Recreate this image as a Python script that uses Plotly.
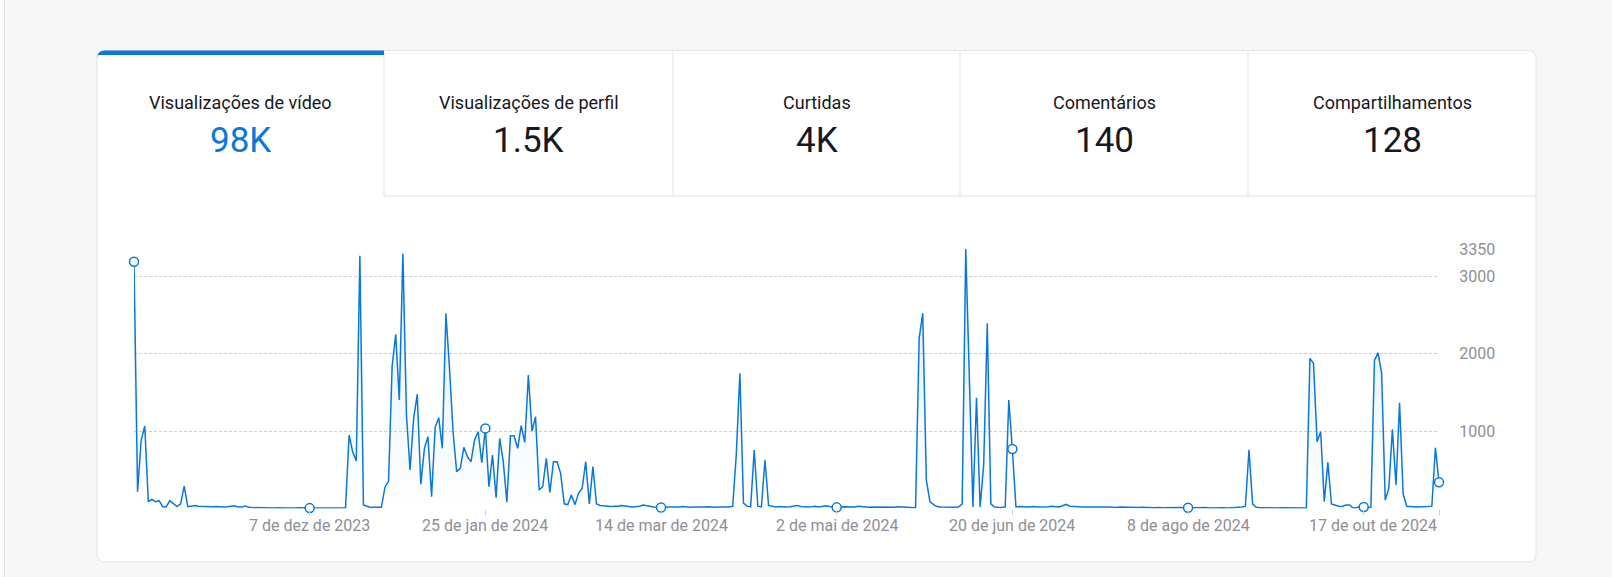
import plotly.graph_objects as go

W, H = 1612, 577

# ---------------- data ----------------
tab_titles = ["Visualizações de vídeo", "Visualizações de perfil", "Curtidas", "Comentários", "Compartilhamentos"]
tab_values = ["98K", "1.5K", "4K", "140", "128"]

tick_positions = [49, 98, 147, 196, 245, 294, 343]
tick_labels = ["7 de dez de 2023", "25 de jan de 2024", "14 de mar de 2024", "2 de mai de 2024",
               "20 de jun de 2024", "8 de ago de 2024", "17 de out de 2024"]
marker_positions = [0, 49, 98, 147, 196, 245, 294, 343, 364]

y_ticks = [0, 1000, 2000, 3000, 3350]
y_tick_labels = ["", "1000", "2000", "3000", "3350"]

video_views = [
    3185, 217, 884, 1065, 88, 118, 88, 101, 24, 24,
    101, 60, 24, 60, 290, 24, 30, 38, 28, 25,
    30, 26, 22, 25, 20, 18, 22, 24, 35, 20,
    18, 32, 16, 12, 10, 8, 10, 12, 8, 6,
    10, 12, 8, 6, 4, 8, 10, 6, 4, 5,
    8, 10, 6, 5, 8, 6, 4, 5, 4, 5,
    948, 730, 613, 3262, 45, 30, 13, 15, 12, 15,
    275, 350, 1840, 2248, 1400, 3293, 1206, 497, 1164, 1473,
    312, 777, 927, 153, 1048, 1172, 777, 2519, 1813, 991,
    475, 518, 790, 669, 604, 884, 991, 591, 1034, 282,
    690, 140, 905, 604, 80, 940, 940, 777, 1069, 853,
    1723, 1000, 1185, 239, 282, 648, 209, 604, 604, 454,
    60, 50, 174, 50, 196, 260, 604, 60, 540, 60,
    40, 35, 30, 25, 30, 28, 40, 30, 25, 20,
    22, 30, 45, 35, 25, 20, 15, 12, 15, 20,
    18, 15, 20, 25, 18, 15, 20, 18, 15, 20,
    22, 18, 15, 20, 18, 15, 20, 30, 700, 1745,
    70, 30, 20, 755, 30, 20, 626, 40, 25, 20,
    25, 20, 18, 22, 30, 40, 25, 20, 18, 22,
    30, 20, 25, 35, 25, 20, 15, 18, 22, 20,
    25, 20, 30, 22, 18, 15, 20, 18, 25, 22,
    20, 18, 15, 22, 20, 18, 20, 15, 10, 2196,
    2519, 368, 88, 50, 25, 20, 18, 15, 12, 15,
    20, 60, 3350, 1714, 20, 1430, 20, 561, 2390, 60,
    20, 15, 12, 20, 1400, 768, 20, 25, 20, 18,
    22, 25, 18, 20, 15, 22, 30, 25, 20, 35,
    55, 30, 25, 20, 22, 18, 20, 15, 18, 20,
    15, 18, 20, 15, 12, 18, 15, 12, 15, 10,
    12, 15, 10, 12, 10, 15, 12, 10, 12, 10,
    8, 10, 12, 8, 10, 12, 10, 8, 10, 12,
    8, 10, 12, 8, 10, 8, 10, 12, 15, 20,
    30, 757, 60, 15, 10, 8, 10, 8, 10, 8,
    10, 8, 6, 8, 10, 8, 6, 5, 1938, 1873,
    862, 991, 88, 596, 58, 40, 30, 25, 45, 45,
    10, 10, 25, 20, 10, 15, 1916, 2010, 1745, 110,
    260, 1022, 303, 1365, 187, 30, 25, 22, 20, 22,
    20, 25, 30, 785, 338,
]
day_index = list(range(len(video_views)))
last_index = day_index[-1]

# ---------------- styling ----------------
BLUE = "#0a78d8"
GRID = "#cfcfcf"
LABEL = "#8e8e93"
BORDER = "#e3e3e3"
FONT = "Roboto, Inter, 'Noto Sans', sans-serif"


def px(x):
    return x / W


def py(y):
    return 1 - y / H


def rounded_rect_path(x0, y0, x1, y1, r, top_only=False):
    X0, X1 = px(x0), px(x1)
    Y0, Y1 = py(y0), py(y1)
    rx, ry = r / W, r / H
    if top_only:
        return (f"M {X0},{Y1} L {X0},{Y0 - ry} Q {X0},{Y0} {X0 + rx},{Y0} "
                f"L {X1},{Y0} L {X1},{Y1} Z")
    return (f"M {X0 + rx},{Y0} L {X1 - rx},{Y0} Q {X1},{Y0} {X1},{Y0 - ry} "
            f"L {X1},{Y1 + ry} Q {X1},{Y1} {X1 - rx},{Y1} "
            f"L {X0 + rx},{Y1} Q {X0},{Y1} {X0},{Y1 + ry} "
            f"L {X0},{Y0 - ry} Q {X0},{Y0} {X0 + rx},{Y0} Z")


card_x0, card_x1, card_y0, card_y1 = 97, 1536, 50.5, 562
tab_edges = [97, 384, 673, 960, 1248, 1536]
tab_bottom = 196

shapes = []
# page left edge
shapes.append(dict(type="rect", xref="paper", yref="paper", x0=0, x1=px(4), y0=0, y1=1,
                   fillcolor="#fbfbfb", line=dict(width=0), layer="below"))
shapes.append(dict(type="line", xref="paper", yref="paper", x0=px(4.5), x1=px(4.5), y0=0, y1=1,
                   line=dict(color="#e4e4e4", width=1), layer="below"))
# card
shapes.append(dict(type="path", xref="paper", yref="paper",
                   path=rounded_rect_path(card_x0, card_y0, card_x1, card_y1, 8),
                   fillcolor="white", line=dict(color=BORDER, width=1), layer="below"))
# tab separators
for xe in tab_edges[1:-1]:
    shapes.append(dict(type="line", xref="paper", yref="paper", x0=px(xe), x1=px(xe),
                       y0=py(card_y0), y1=py(tab_bottom), line=dict(color=BORDER, width=1), layer="below"))
# bottom border for inactive tabs
shapes.append(dict(type="line", xref="paper", yref="paper", x0=px(tab_edges[1]), x1=px(card_x1 - 0.5),
                   y0=py(tab_bottom), y1=py(tab_bottom), line=dict(color=BORDER, width=1), layer="below"))
# active tab blue bar
shapes.append(dict(type="path", xref="paper", yref="paper",
                   path=rounded_rect_path(card_x0, card_y0, tab_edges[1], card_y0 + 4.5, 8, top_only=True),
                   fillcolor=BLUE, line=dict(width=0), layer="below"))

annotations = []
for k, (t, v) in enumerate(zip(tab_titles, tab_values)):
    cx = (tab_edges[k] + tab_edges[k + 1]) / 2
    annotations.append(dict(xref="paper", yref="paper", x=px(cx), y=py(102), text=t, showarrow=False,
                            xanchor="center", yanchor="middle",
                            font=dict(family=FONT, size=18, color="#161823", weight=400)))
    annotations.append(dict(xref="paper", yref="paper", x=px(cx), y=py(140.5), text=v, showarrow=False,
                            xanchor="center", yanchor="middle",
                            font=dict(family=FONT, size=35, color=BLUE if k == 0 else "#161823", weight=400)))

# x tick labels (last one is right-aligned to the end of the axis)
for k, (pos, lab) in enumerate(zip(tick_positions, tick_labels)):
    is_last = k == len(tick_labels) - 1
    annotations.append(dict(xref="x", yref="paper", x=last_index if is_last else pos, y=py(525),
                            text=lab, showarrow=False,
                            xanchor="right" if is_last else "center", yanchor="middle",
                            font=dict(family=FONT, size=16, color=LABEL)))

fig = go.Figure()
fig.add_trace(go.Scatter(
    x=day_index, y=video_views, mode="lines",
    line=dict(color=BLUE, width=1.5),
    fill="tozeroy",
    fillgradient=dict(type="vertical", start=0, stop=3350,
                      colorscale=[[0, "rgba(10,120,216,0.0)"], [1, "rgba(10,120,216,0.13)"]]),
    cliponaxis=False, hoverinfo="skip", showlegend=False,
))
fig.add_trace(go.Scatter(
    x=[day_index[i] for i in marker_positions],
    y=[video_views[i] for i in marker_positions],
    mode="markers",
    marker=dict(size=9, color="white", line=dict(color=BLUE, width=1.5)),
    cliponaxis=False, hoverinfo="skip", showlegend=False,
))

fig.update_layout(
    width=W, height=H,
    margin=dict(l=0, r=0, t=0, b=0),
    paper_bgcolor="#f7f7f7",
    plot_bgcolor="rgba(0,0,0,0)",
    shapes=shapes,
    annotations=annotations,
    showlegend=False,
    hovermode=False,
    xaxis=dict(
        domain=[px(134), px(1439)], range=[0, last_index],
        tickmode="array", tickvals=tick_positions + [last_index], ticktext=[""] * (len(tick_positions) + 1),
        ticks="outside", ticklen=5, tickcolor="#d0d0d0", tickwidth=1,
        showgrid=False, zeroline=False, showline=False, automargin=False,
        fixedrange=True,
    ),
    yaxis=dict(
        domain=[py(508.5), py(249)], range=[0, 3350],
        side="right",
        tickmode="array", tickvals=y_ticks, ticktext=y_tick_labels,
        ticks="outside", ticklen=16, tickcolor="rgba(0,0,0,0)",
        showgrid=True, gridcolor=GRID, griddash="3px,2px", gridwidth=1,
        zeroline=False, showline=False, automargin=False,
        tickfont=dict(family=FONT, size=16, color=LABEL),
        fixedrange=True,
    ),
)

page_js = (
    "document.documentElement.style.margin='0';"
    "document.documentElement.style.padding='0';"
    "document.documentElement.style.overflow='hidden';"
    "document.body.style.margin='0';"
    "document.body.style.padding='0';"
    "document.body.style.overflow='hidden';"
    "document.body.style.background='#f7f7f7';"
    "var gd=document.getElementById('{plot_id}');"
    "gd.style.position='absolute';gd.style.left='0px';gd.style.top='0px';"
)

fig.write_html(
    "out.html",
    config={"displayModeBar": False, "staticPlot": True},
    post_script=page_js,
)
